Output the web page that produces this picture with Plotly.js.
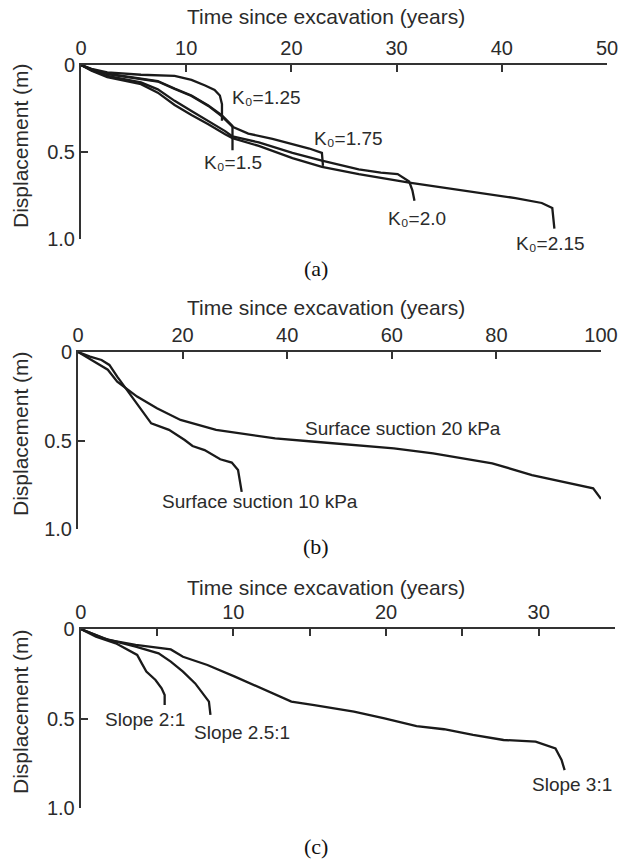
<!DOCTYPE html>
<html><head><meta charset="utf-8">
<script src="https://cdn.plot.ly/plotly-3.0.1.min.js"></script>
<style>html,body{margin:0;padding:0;background:#fff}#chart{width:618px;height:860px}</style>
</head><body><div id="chart"></div>
<script>
// ---- Panel (a): K0 series ----
const k125_t = [0,0.5,1,2.5,5.7,8.9,10.5,11.8,12.7,13.2,13.4,13.4];
const k125_d = [0,0.012,0.022,0.042,0.056,0.063,0.086,0.118,0.143,0.175,0.225,0.32];
const k150_t = [0,1,2.5,5.7,7.3,8.9,10.5,12.1,13.4,14.4,14.4];
const k150_d = [0,0.025,0.05,0.08,0.092,0.135,0.175,0.232,0.29,0.35,0.49];
const k175_t = [0,1,2.5,5.7,7.3,8.9,10.5,12.1,13.4,14.4,15.9,18.2,20.1,21.7,22.9,23.0];
const k175_d = [0,0.026,0.052,0.082,0.095,0.138,0.178,0.235,0.295,0.355,0.394,0.425,0.455,0.48,0.505,0.58];
const k200_t = [0,1,2.5,5.7,7.3,8.9,10.5,12.1,13.7,14.4,16.9,20.1,22.9,26.4,28.5,30.1,31.2,31.5,31.7];
const k200_d = [0,0.03,0.063,0.10,0.14,0.206,0.264,0.32,0.38,0.41,0.445,0.505,0.55,0.6,0.619,0.627,0.67,0.72,0.78];
const k215_t = [0,1,2.5,5.7,7.3,8.9,10.5,12.1,13.7,14.4,16.9,20.1,22.9,26.4,31.2,34.9,38.1,41.3,43.8,44.8,45.0];
const k215_d = [0,0.033,0.07,0.11,0.159,0.23,0.287,0.34,0.398,0.42,0.465,0.535,0.585,0.627,0.676,0.708,0.737,0.765,0.793,0.822,0.94];
const kLabels = ['K\u2080=1.25','K\u2080=1.5','K\u2080=1.75','K\u2080=2.0','K\u2080=2.15'];

// ---- Panel (b): surface suction ----
const s20_t = [0,3.0,5.7,7.5,11.3,15.1,19.6,26.4,37.7,45.3,60.4,67.9,79.2,86.8,94.3,98.5,100];
const s20_d = [0,0.055,0.10,0.168,0.252,0.318,0.384,0.44,0.488,0.507,0.544,0.573,0.629,0.695,0.742,0.77,0.83];
const s10_t = [0,2.3,4.5,6.0,7.5,9.8,12.1,14.0,17.4,20.4,21.9,24.2,27.2,29.4,30.6,31.3];
const s10_d = [0,0.026,0.045,0.073,0.139,0.234,0.328,0.403,0.44,0.497,0.531,0.554,0.606,0.625,0.667,0.79];
const sLabels = ['Surface suction 20 kPa','Surface suction 10 kPa'];

// ---- Panel (c): slope ----
const sl2_t = [0,1.0,2.3,3.7,4.0,4.3,4.9,5.3,5.5,5.5];
const sl2_d = [0,0.043,0.08,0.145,0.192,0.238,0.285,0.331,0.369,0.425];
const sl25_t = [0,1.5,3.6,5.1,5.9,6.7,7.5,8.0,8.4,8.5];
const sl25_d = [0,0.052,0.099,0.136,0.182,0.238,0.304,0.359,0.406,0.48];
const sl3_t = [0,1.8,3.6,5.9,6.7,8.3,10.1,11.6,13.8,15.3,17.9,19.9,22.0,23.8,25.7,27.7,29.8,31.1,31.5,31.7];
const sl3_d = [0,0.061,0.089,0.114,0.155,0.201,0.266,0.322,0.406,0.425,0.462,0.499,0.542,0.56,0.592,0.62,0.629,0.667,0.732,0.788];
const slLabels = ['Slope 2:1','Slope 2.5:1','Slope 3:1'];

const xTitle = 'Time since excavation (years)';
const yTitle = 'Displacement (m)';
const yTickVals = [0,0.5,1];
const yTickText = ['0','0.5','1.0'];
const xTicksA = [0,10,20,30,40,50];
const xTicksB = [0,20,40,60,80,100];
const xTicksC = [0,10,20,30];
const xMinorC = [5,15,25,35];
const panelNames = ['(a)','(b)','(c)'];

const LC = '#1a1a1a';
const line = {color: LC, width: 2.3};
function tr(x, y, xa, ya) { return {x, y, xaxis: xa, yaxis: ya, mode: 'lines', line, hoverinfo: 'skip', showlegend: false}; }

const data = [
  tr(k125_t,k125_d,'x','y'), tr(k150_t,k150_d,'x','y'), tr(k175_t,k175_d,'x','y'),
  tr(k200_t,k200_d,'x','y'), tr(k215_t,k215_d,'x','y'),
  tr(s20_t,s20_d,'x2','y2'), tr(s10_t,s10_d,'x2','y2'),
  tr(sl2_t,sl2_d,'x3','y3'), tr(sl25_t,sl25_d,'x3','y3'), tr(sl3_t,sl3_d,'x3','y3')
];

const W = 618, H = 860;
const FONT = 'Liberation Sans, Arial, sans-serif';
const SERIF = 'Liberation Serif, Times New Roman, serif';
const TC = '#2b2b2b';
function xax(dom, range, tv, anchor, minor) {
  const a = {domain: dom, range, side: 'top', anchor, showline: true, linecolor: '#333', linewidth: 2,
    ticks: 'inside', ticklen: 7, tickwidth: 2, tickcolor: '#333', tickvals: tv, ticktext: tv.map(String),
    showgrid: false, zeroline: false, tickfont: {family: FONT, size: 20, color: TC}, ticklabeloverflow: 'allow'};
  if (minor) a.minor = {tickvals: minor, ticks: 'inside', ticklen: 7, tickwidth: 2, tickcolor: '#333', showgrid: false};
  return a;
}
function yax(dom, anchor) {
  return {domain: dom, range: [1, 0], anchor, showline: true, linecolor: '#333', linewidth: 2,
    ticks: 'inside', ticklen: 7, tickwidth: 2, tickcolor: '#333', tickvals: yTickVals, ticktext: yTickText,
    showgrid: false, zeroline: false, tickfont: {family: FONT, size: 20, color: TC}};
}
const px = v => v / W, py = v => 1 - v / H;

const layout = {
  width: W, height: H, margin: {l: 0, r: 0, t: 0, b: 0},
  font: {family: FONT, size: 19, color: TC},
  paper_bgcolor: '#fff', plot_bgcolor: '#fff', showlegend: false,
  xaxis: xax([px(81), px(607)], [0, 50], xTicksA, 'y'),
  yaxis: yax([py(239), py(65)], 'x'),
  xaxis2: xax([px(78), px(601)], [0, 100], xTicksB, 'y2'),
  yaxis2: yax([py(529), py(352)], 'x2'),
  xaxis3: xax([px(80.7), px(615)], [0, 35], xTicksC, 'y3', xMinorC),
  yaxis3: yax([py(808), py(629)], 'x3'),
  annotations: []
};

const lab = (text, x, y, xr, yr) => ({text, x, y, xref: xr, yref: yr, xanchor: 'left', yanchor: 'middle', showarrow: false,
  font: {family: FONT, size: 19, color: TC}});
const A = layout.annotations;
// Panel (a) labels
A.push(lab(kLabels[0], 14.2, 0.184, 'x', 'y'));
A.push(lab(kLabels[1], 11.5, 0.56, 'x', 'y'));
A.push(lab(kLabels[2], 22.0, 0.42, 'x', 'y'));
A.push(lab(kLabels[3], 29.0, 0.88, 'x', 'y'));
A.push(lab(kLabels[4], px(514), py(243), 'paper', 'paper'));
// Panel (b) labels
A.push(lab(sLabels[0], 43.0, 0.43, 'x2', 'y2'));
A.push(lab(sLabels[1], 15.7, 0.846, 'x2', 'y2'));
// Panel (c) labels
A.push(lab(slLabels[0], 1.46, 0.503, 'x3', 'y3'));
A.push(lab(slLabels[1], 7.3, 0.58, 'x3', 'y3'));
A.push(lab(slLabels[2], 29.4, 0.87, 'x3', 'y3'));

// Axis titles and panel names
const titleY = [17, 307, 587];
const plotMid = [152, 440, 718];
const nameY = [268, 546, 846];
for (let i = 0; i < 3; i++) {
  A.push({text: xTitle, x: px(326), y: py(titleY[i]), xref: 'paper', yref: 'paper', xanchor: 'center', yanchor: 'middle',
    showarrow: false, font: {family: FONT, size: 21, color: TC}});
  A.push({text: yTitle, x: px(20), y: py(plotMid[i] - 6), xref: 'paper', yref: 'paper', xanchor: 'center', yanchor: 'middle',
    textangle: -90, showarrow: false, font: {family: FONT, size: 21, color: TC}});
  A.push({text: panelNames[i], x: px(316), y: py(nameY[i]), xref: 'paper', yref: 'paper', xanchor: 'center', yanchor: 'middle',
    showarrow: false, font: {family: SERIF, size: 22, color: '#111'}});
}

Plotly.newPlot('chart', data, layout, {staticPlot: true, displayModeBar: false});
</script>
</body></html>
